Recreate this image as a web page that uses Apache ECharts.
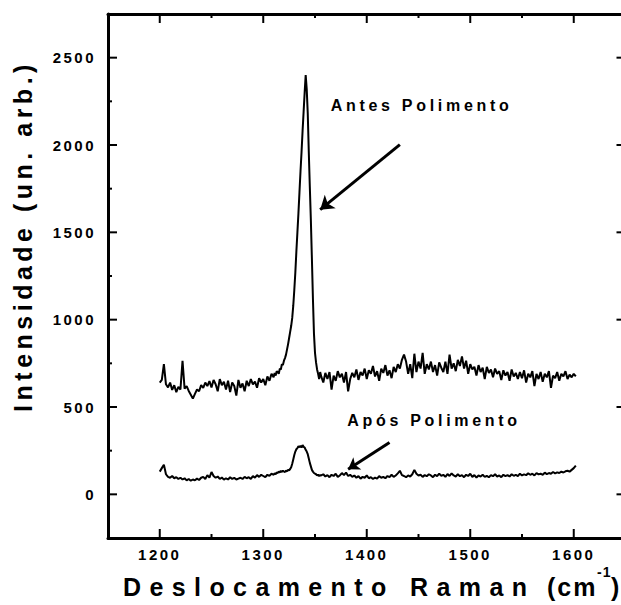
<!DOCTYPE html>
<html>
<head>
<meta charset="utf-8">
<script src="https://cdn.jsdelivr.net/npm/echarts@6/dist/echarts.min.js"></script>
<style>
  html, body { margin: 0; padding: 0; background: #fff; }
  #chart { width: 621px; height: 605px; }
</style>
</head>
<body>
<div id="chart"></div>
<script>
// Raman shift (cm-1), denser sampling around the D band
const shift = [
  1200,1202,1204,1206,1208,1210,1212,1214,1216,1218,1220,1222,1224,1226,1228,1230,1232,1234,1236,1238,
  1240,1242,1244,1246,1248,1250,1252,1254,1256,1258,1260,1262,1264,1266,1268,1270,1272,1274,1276,1278,
  1280,1282,1284,1286,1288,1290,1292,1294,1296,1298,1300,1302,1304,1306,1308,1310,
  1311,1312,1313,1314,1315,1316,1317,1318,1319,1320,1321,1322,1323,1324,1325,1326,1327,1328,1329,1330,
  1331,1332,1333,1334,1335,1336,1337,1338,1339,1340,1341,1342,1343,1344,1345,1346,1347,1348,1349,1350,
  1351,1352,1353,1354,1355,
  1356,1358,1360,1362,1364,1366,1368,1370,1372,1374,1376,1378,1380,1382,1384,1386,1388,1390,1392,1394,
  1396,1398,1400,1402,1404,1406,1408,1410,1412,1414,1416,1418,1420,1422,1424,1426,1428,1430,1432,1434,
  1436,1438,1440,1442,1444,1446,1448,1450,1452,1454,1456,1458,1460,1462,1464,1466,1468,1470,1472,1474,
  1476,1478,1480,1482,1484,1486,1488,1490,1492,1494,1496,1498,1500,1502,1504,1506,1508,1510,1512,1514,
  1516,1518,1520,1522,1524,1526,1528,1530,1532,1534,1536,1538,1540,1542,1544,1546,1548,1550,1552,1554,
  1556,1558,1560,1562,1564,1566,1568,1570,1572,1574,1576,1578,1580,1582,1584,1586,1588,1590,1592,1594,
  1596,1598,1600,1602
];

// "Antes Polimento" (before polishing)
const antes = [
  640,655,745,630,612,640,598,625,585,615,600,765,605,620,592,570,548,575,600,590,
  625,610,640,620,648,612,655,630,590,660,625,645,600,650,585,640,620,565,655,610,
  635,590,650,620,660,630,645,610,665,640,660,625,675,650,690,670,
  695,680,705,700,690,720,715,745,740,765,780,800,830,860,895,930,965,1010,1080,1170,
  1270,1390,1500,1610,1730,1850,1960,2080,2190,2300,2400,2320,2180,1960,1760,1570,1350,1120,920,810,
  755,715,690,660,700,
  675,640,695,660,700,600,680,650,705,670,690,640,700,590,660,695,670,715,655,700,
  680,720,660,710,690,735,675,705,650,720,695,740,680,710,665,730,700,745,720,770,
  800,760,690,745,665,805,700,760,720,810,690,745,715,760,700,740,680,755,725,700,
  760,690,800,720,750,705,770,735,790,720,765,690,745,715,730,680,740,700,725,660,
  730,695,715,670,720,690,705,655,710,680,700,650,715,675,695,660,700,665,710,640,
  690,670,705,620,690,660,700,645,690,670,705,610,680,665,700,650,690,675,705,660,
  685,670,690,675
];

// "Após Polimento" (after polishing)
const apos = [
  130,150,170,115,100,95,105,92,98,88,95,85,92,80,88,78,85,80,90,82,
  95,100,88,110,96,128,105,95,102,88,96,84,92,85,98,88,94,85,90,95,
  88,100,92,98,88,104,96,110,100,112,105,98,112,106,118,112,
  120,115,125,122,130,126,134,128,136,130,128,135,132,140,138,145,155,175,200,225,
  245,258,265,275,270,278,268,282,272,268,255,245,230,205,180,160,140,130,122,118,
  115,108,112,105,110,
  108,115,102,110,98,112,105,118,100,108,122,110,125,105,112,100,108,95,104,90,
  100,95,108,92,98,88,96,90,104,95,100,92,105,98,112,100,108,120,135,110,
  105,98,108,102,115,140,118,108,112,100,110,104,115,108,98,112,104,118,106,112,
  100,116,105,120,108,102,115,104,110,98,112,105,118,100,110,96,108,102,112,100,
  106,98,110,104,115,102,108,98,112,104,110,102,115,106,112,104,118,108,114,110,
  120,112,118,108,122,114,118,112,124,116,122,118,128,120,126,122,130,125,132,135,
  130,140,150,165
];

// tick values
const xLabels = [1200, 1300, 1400, 1500, 1600];
const xMinor = [1250, 1350, 1450, 1550];
const yLabels = [0, 500, 1000, 1500, 2000, 2500];
const yMinor = [250, 750, 1250, 1750, 2250];

// annotations (data coordinates)
const notes = [
  { name: 'Antes Polimento', at: [1453, 2225], from: [1432, 2002], to: [1355, 1630] },
  { name: 'Após Polimento', at: [1465, 423], from: [1422, 297], to: [1382, 143] }
];

const FONT = '"Liberation Sans", Arial, sans-serif';

// letter spacing used by the original typesetting
const spacing = {
  'Antes Polimento': 3.7,
  'Após Polimento': 3.7,
  'Intensidade (un. arb.)': 4.5,
  'Deslocamento Raman': 8.4,
  '(cm': 2,
  '-1': 1
};

function makeAxis(pos, min, max, labels, showLabel, margin) {
  return {
    type: 'value', position: pos, min: min, max: max,
    axisLine: { show: true, onZero: false, lineStyle: { color: '#000', width: 3 } },
    axisTick: { show: false },
    minorTick: { show: false },
    axisLabel: {
      show: showLabel, margin: margin,
      showMinLabel: false, showMaxLabel: false,
      formatter: function (v) { return labels.indexOf(v) >= 0 ? String(v) : ''; },
      color: '#000', fontFamily: FONT, fontWeight: 'bold', fontSize: 15
    },
    splitLine: { show: false }
  };
}

// inward tick marks, placed through the axes' own scales
function tickSeries(values, dim, len) {
  return {
    type: 'custom',
    silent: true,
    data: values.map(v => dim === 'x' ? [v, 0] : [1400, v]),
    renderItem: function (params, api) {
      const cs = params.coordSys;
      const p = api.coord([api.value(0), api.value(1)]);
      const lines = [];
      if (dim === 'x') {
        const bot = cs.y + cs.height, top = cs.y;
        lines.push({ type: 'line', shape: { x1: p[0], y1: bot, x2: p[0], y2: bot - len } });
        lines.push({ type: 'line', shape: { x1: p[0], y1: top, x2: p[0], y2: top + len } });
      } else {
        const lft = cs.x, rgt = cs.x + cs.width;
        lines.push({ type: 'line', shape: { x1: lft, y1: p[1], x2: lft + len, y2: p[1] } });
        lines.push({ type: 'line', shape: { x1: rgt, y1: p[1], x2: rgt - len, y2: p[1] } });
      }
      lines.forEach(l => { l.style = { stroke: '#000', lineWidth: 2 }; });
      return { type: 'group', children: lines };
    }
  };
}

const chart = echarts.init(document.getElementById('chart'), null, { renderer: 'svg' });

const lineSeries = [antes, apos].map((vals, k) => ({
  type: 'line',
  name: notes[k].name,
  data: shift.map((x, i) => [x, vals[i]]),
  showSymbol: false,
  silent: true,
  lineStyle: { color: '#000', width: 2 },
  markLine: {
    silent: true,
    symbol: ['none', 'arrow'],
    symbolSize: k === 0 ? 13 : 11,
    label: { show: false },
    lineStyle: { color: '#000', width: 3, type: 'solid' },
    data: [[{ coord: notes[k].from }, { coord: notes[k].to }]]
  },
  markPoint: {
    silent: true,
    symbol: 'rect',
    symbolSize: 0,
    label: {
      show: true, position: 'inside', formatter: '{b}',
      color: '#000', fontFamily: FONT, fontWeight: 'bold', fontSize: 16
    },
    data: [{ name: notes[k].name, coord: notes[k].at }]
  }
}));

const option = {
  animation: false,
  backgroundColor: '#fff',
  grid: { left: 108, top: 14, width: 517.5, height: 524, outerBoundsMode: 'none' },
  xAxis: [
    makeAxis('bottom', 1150, 1650, xLabels, true, 9),
    makeAxis('top', 1150, 1650, xLabels, false, 9)
  ],
  yAxis: [
    makeAxis('left', -250, 2750, yLabels, true, 12),
    makeAxis('right', -250, 2750, yLabels, false, 12)
  ],
  series: lineSeries.concat([
    tickSeries(xLabels, 'x', 9),
    tickSeries(xMinor, 'x', 4),
    tickSeries(yLabels, 'y', 9),
    tickSeries(yMinor, 'y', 4)
  ]),
  graphic: [
    {
      type: 'text', x: 23, y: 236, rotation: Math.PI / 2,
      style: {
        text: 'Intensidade (un. arb.)', fill: '#000',
        font: 'bold 25px ' + FONT, textAlign: 'center', textVerticalAlign: 'middle'
      }
    },
    {
      type: 'text', x: 123, y: 587,
      style: {
        text: 'Deslocamento Raman', fill: '#000',
        font: 'bold 25px ' + FONT, textAlign: 'left', textVerticalAlign: 'middle'
      }
    },
    {
      type: 'text', x: 547, y: 587,
      style: { text: '(cm', fill: '#000', font: 'bold 25px ' + FONT, textAlign: 'left', textVerticalAlign: 'middle' }
    },
    {
      type: 'text', x: 597, y: 572,
      style: { text: '-1', fill: '#000', font: 'bold 14px ' + FONT, textAlign: 'left', textVerticalAlign: 'middle' }
    },
    {
      type: 'text', x: 611, y: 587,
      style: { text: ')', fill: '#000', font: 'bold 25px ' + FONT, textAlign: 'left', textVerticalAlign: 'middle' }
    }
  ]
};

chart.setOption(option);

function applySpacing() {
  document.querySelectorAll('#chart text').forEach(function (t) {
    const s = t.textContent;
    if (spacing[s] !== undefined) {
      t.setAttribute('letter-spacing', spacing[s]);
    } else if (/^\d+$/.test(s)) {
      t.setAttribute('letter-spacing', 2.5);
    }
  });
}
applySpacing();
chart.on('finished', applySpacing);
setTimeout(applySpacing, 50);
</script>
</body>
</html>
